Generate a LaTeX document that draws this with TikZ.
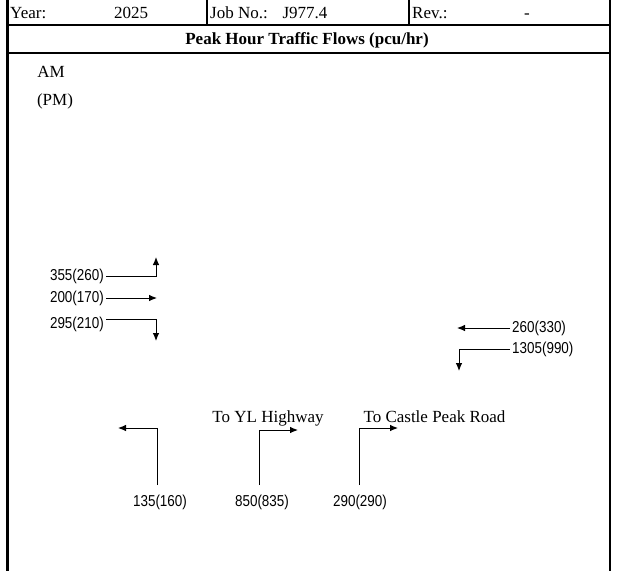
\documentclass[tikz,border=0pt]{standalone}
\usepackage{fontspec}
\setmainfont{Liberation Serif}
\newfontfamily\numfont[FakeStretch=0.85]{Liberation Sans}
\usetikzlibrary{arrows.meta}

\begin{document}
\begin{tikzpicture}[
  x=1pt,y=-1pt,
  >={Latex[length=8pt,width=6.5pt]},
  frame/.style={line width=2.2pt,black},
  hdr/.style={inner sep=0pt,font=\fontsize{17}{20}\selectfont},
  ttl/.style={inner sep=0pt,font=\fontsize{17}{20}\selectfont\bfseries},
  num/.style={inner sep=2pt,font=\numfont\fontsize{15.8}{18}\selectfont},
  dest/.style={inner sep=0pt,anchor=base,font=\fontsize{17}{20}\selectfont},
  arr/.style={->,line width=0.9pt,black}
]
\useasboundingbox (0,0) rectangle (619,571);

% ===================== frame and header =====================
\draw[frame] (7.5,0) -- (7.5,571);
\draw[frame] (610,0) -- (610,571);
\draw[frame] (7.5,25) -- (610,25);
\draw[frame] (7.5,53) -- (610,53);
\draw[frame] (207,0) -- (207,25);
\draw[frame] (409,0) -- (409,25);

\node[hdr,anchor=base west] (year) at (10,18) {Year:};
\node[hdr,anchor=base] (yearv) at (131,18) {2025};
\node[hdr,anchor=base west] (job) at (210,18) {Job No.:};
\node[hdr,anchor=base] (jobv) at (305,18) {J977.4};
\node[hdr,anchor=base west] (rev) at (412,18) {Rev.:};
\node[hdr,anchor=base] (revv) at (527,18) {-};
\node[ttl] (title) at (307,40) {Peak Hour Traffic Flows (pcu/hr)};

% ---- legend ----
\node[hdr] (am) at (51,72) {AM};
\node[hdr] (pm) at (55,101) {(PM)};

% ===================== west approach =====================
\node[num,anchor=east] (wr) at (106,276) {355(260)};
\node[num,anchor=east] (wt) at (106,298) {200(170)};
\node[num,anchor=east] (wl) at (106,324) {295(210)};
\coordinate (wrE) at (156,257);
\coordinate (wtE) at (157,298);
\coordinate (wlS) at (106,319);
\coordinate (wlE) at (156,341);
\draw[arr] (wr.east) -| (wrE);
\draw[arr] (wt.east) -- (wtE);
\draw[arr] (wlS) -| (wlE);

% ===================== east approach =====================
\node[num,anchor=west] (et) at (510,328) {260(330)};
\node[num,anchor=west] (el) at (510,349) {1305(990)};
\coordinate (etE) at (457,328);
\coordinate (elE) at (459,371);
\draw[arr] (et.west) -- (etE);
\draw[arr] (el.west) -| (elE);

% ===================== south approach =====================
\node[num] (sl) at (160,502) {135(160)};
\node[num] (sm) at (262,502) {850(835)};
\node[num] (sr) at (360,502) {290(290)};
\node[dest] (yl) at (268,422) {To YL Highway};
\node[dest] (cpr) at (434.5,422) {To Castle Peak Road};
\coordinate (slS) at (157,485);
\coordinate (slE) at (118,428);
\coordinate (smS) at (259,485);
\coordinate (smE) at (298,430);
\coordinate (srS) at (359,485);
\coordinate (srE) at (398,428);
\draw[arr] (slS) |- (slE);
\draw[arr] (smS) |- (smE);
\draw[arr] (srS) |- (srE);

\end{tikzpicture}
\end{document}
